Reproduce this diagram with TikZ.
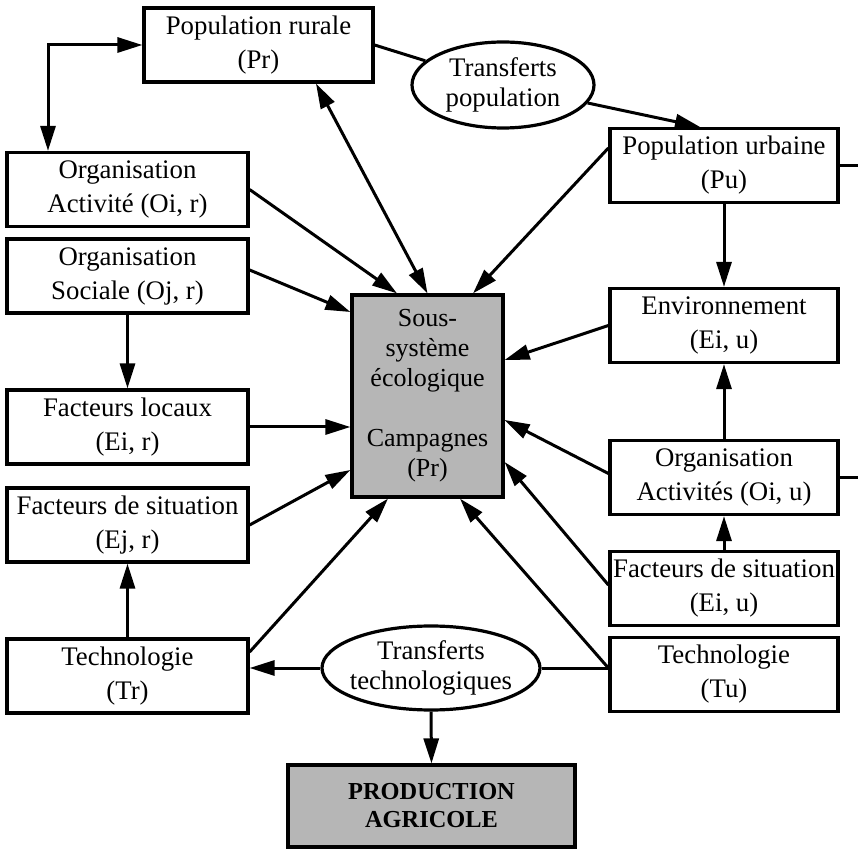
\documentclass[tikz,border=0pt]{standalone}
\usepackage{fontspec}
\setmainfont{Liberation Serif}
\usetikzlibrary{arrows.meta, shapes.geometric}
\definecolor{dither}{RGB}{182,182,182}

\begin{document}
\begin{tikzpicture}[x=0.5pt, y=-0.5pt,
  >={Triangle[length=12.5pt, width=7.5pt]},
  link/.style={line width=1.5pt},
  box/.style={draw, line width=1.6pt, align=center, inner sep=1pt,
    minimum height=37pt, font=\fontsize{13.4}{17}\selectfont},
  lbox/.style={box, minimum width=120.5pt},
  rbox/.style={box, minimum width=114pt},
  ell/.style={draw, ellipse, line width=1.6pt, inner sep=0pt},
  elltxt/.style={align=center, font=\fontsize{13.4}{15}\selectfont}]
  \useasboundingbox (0,0) rectangle (858,850);
  \coordinate (rim) at (858,0);

  % Rural side
  \node[box, minimum width=114.5pt] (pr) at (258.5,45) {Population rurale\\(Pr)};
  \node[lbox] (oir) at (127.5,189.5) {Organisation\\Activité (Oi, r)};
  \node[lbox] (ojr) at (127.5,276)   {Organisation\\Sociale (Oj, r)};
  \node[lbox] (eir) at (127.5,427)   {Facteurs locaux\\(Ei, r)};
  \node[lbox] (ejr) at (127.5,525)   {Facteurs de situation\\(Ej, r)};
  \node[lbox] (tr)  at (127.5,676)   {Technologie\\(Tr)};

  % Urban side
  \node[rbox] (pu)  at (724,165.5) {Population urbaine\\(Pu)};
  \node[rbox] (env) at (724,325.5) {Environnement\\(Ei, u)};
  \node[rbox] (oiu) at (724,477.5) {Organisation\\Activités (Oi, u)};
  \node[rbox] (eiu) at (724,588.5) {Facteurs de situation\\(Ei, u)};
  \node[rbox] (tu)  at (724,674.5) {Technologie\\(Tu)};

  % Transfers
  \node[ell, minimum width=91pt, minimum height=43pt] (tpop) at (503,85) {};
  \node[elltxt] (tpoptxt) at (tpop) {Transferts\\population};
  \node[ell, minimum width=109pt, minimum height=42pt] (ttech) at (431,668) {};
  \node[elltxt] (ttechtxt) at (ttech) {Transferts\\technologiques};

  % Shaded boxes
  \node[box, fill=dither, minimum width=75.5pt, minimum height=101pt,
    font=\fontsize{13}{15}\selectfont] (eco) at (427.5,396)
    {Sous-\\système\\écologique\\[15pt]Campagnes\\(Pr)};
  \node[box, fill=dither, minimum width=143.5pt, minimum height=41pt,
    font=\fontsize{12.2}{14}\selectfont\bfseries] (prod) at (431.5,806)
    {PRODUCTION\\AGRICOLE};

  % Population links
  \draw[link, <->] (pr.west) -| ([xshift=-39.75pt]oir.north);
  \draw[link, <->] ([xshift=28.75pt]pr.south) -- (eco.north);
  \draw[link] (pr.east) -- (tpop);
  \draw[link, ->] (tpop) -- ([xshift=-12pt]pu.north);
  \draw[link, ->] ([yshift=8.75pt]pu.west) -- ([xshift=22.75pt]eco.north);
  \draw[link] (pu.east) -- (pu.east -| rim);

  % Left column into the centre
  \draw[link, ->] (oir.east) -- ([xshift=-15.25pt]eco.north);
  \draw[link, ->] ([yshift=3pt]ojr.east) -- ([yshift=42pt]eco.west);
  \draw[link, ->] (ojr.south) -- (eir.north);
  \draw[link, ->] (eir.east) -- (eir.east -| eco.west);
  \draw[link, ->] (ejr.east) -- ([yshift=-37pt]eco.west);
  \draw[link, ->] (tr.north) -- (ejr.south);
  \draw[link, ->] ([yshift=12pt]tr.east) -- ([xshift=-19.75pt]eco.south);

  % Right column into the centre
  \draw[link, ->] (pu.south) -- (env.north);
  \draw[link, ->] (oiu.north) -- (env.south);
  \draw[link, ->] (eiu.north) -- (oiu.south);
  \draw[link, ->] (env.west) -- ([yshift=18pt]eco.east);
  \draw[link, ->] ([yshift=2pt]oiu.west) -- ([yshift=-12pt]eco.east);
  \draw[link, ->] ([yshift=1.75pt]eiu.west) -- ([yshift=-33pt]eco.east);
  \draw[link, ->] ([yshift=3.25pt]tu.west) -- ([xshift=16.25pt]eco.south);
  \draw[link] (oiu.east) -- (oiu.east -| rim);

  % Technology transfers
  \draw[link] ([yshift=3.25pt]tu.west) -- (ttech.east);
  \draw[link, ->] (ttech.west) -- (ttech.west -| tr.east);
  \draw[link, ->] (ttech.south) -- (prod.north);
\end{tikzpicture}
\end{document}
